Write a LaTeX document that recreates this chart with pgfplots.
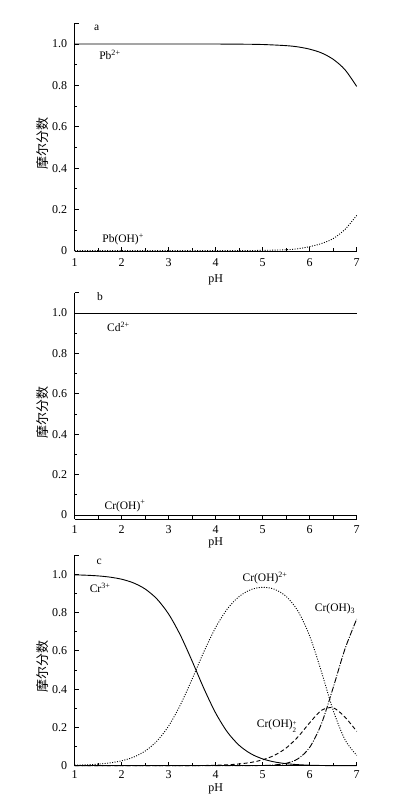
\documentclass[border=0pt]{standalone}
\usepackage{fontspec}
\setmainfont{Liberation Serif}
\newfontfamily\cjk{Noto Sans CJK SC}
\usepackage{pgfplots}
\pgfplotsset{compat=1.18}

\tikzset{lab/.style={font=\fontsize{11.5}{13}\selectfont, inner sep=0pt}}
\pgfplotsset{
  panel/.style={
    scale only axis, width=282pt, anchor=south west,
    xmin=1, xmax=7,
    axis x line=bottom, axis y line=left,
    axis line style={-, line width=0.8pt},
    tick align=inside,
    xtick={1,2,3,4,5,6,7}, minor x tick num=1,
    ytick={0,0.2,0.4,0.6,0.8,1.0},
    yticklabels={0,0.2,0.4,0.6,0.8,1.0},
    minor y tick num=1,
    extra y ticks={1.1}, extra y tick labels={},
    major tick length=4pt, minor tick length=2.5pt,
    every tick/.style={black, line width=0.8pt},
    /pgf/number format/assume math mode=true,
    tick label style={font=\fontsize{12}{14}\selectfont},
    yticklabel style={xshift=-4pt},
    xlabel={pH},
    xlabel style={font=\fontsize{12}{14}\selectfont, anchor=center},
    ylabel={\cjk 摩尔分数},
    ylabel style={font=\fontsize{13}{15}\selectfont, at={(axis description cs:-0.1135,0.47)}, anchor=center},
    every axis plot/.append style={black, line width=0.9pt},
    clip=false,
  },
}

\begin{document}
\begin{tikzpicture}
\useasboundingbox (0,0) rectangle (409pt,804pt);

% a: Pb
\begin{axis}[panel, at={(74.7pt,553pt)}, height=227.7pt, ymin=0, ymax=1.1,
  xticklabel style={yshift=-4.5pt},
  xlabel style={at={(axis description cs:0.5,0)}, yshift=-29pt}]
\addplot[smooth] coordinates {(1,1.0) (2,1.0) (3,1.0) (4,0.9998) (4.5,0.9992) (5,0.9975) (5.5,0.992) (5.75,0.986) (6,0.975) (6.25,0.957) (6.5,0.926) (6.75,0.876) (7,0.795)};
\addplot[smooth, dash pattern=on 1pt off 1.5pt] coordinates {(1,0.002) (2,0.002) (3,0.002) (4,0.002) (4.5,0.002) (5,0.003) (5.5,0.006) (5.75,0.011) (6,0.021) (6.25,0.036) (6.5,0.060) (6.75,0.104) (7,0.172)};
\node[lab] at (axis cs:1.47,1.079) {a};
\node[lab] at (axis cs:1.75,0.947) {Pb\textsuperscript{2+}};
\node[lab] at (axis cs:2.03,0.057) {Pb(OH)\textsuperscript{+}};
\end{axis}

% b: Cd
\begin{axis}[panel, at={(74.7pt,285pt)}, height=226.2pt, ymin=-0.02, ymax=1.1,
  xticklabel style={yshift=-3.5pt},
  xlabel style={at={(axis description cs:0.5,0)}, yshift=-24pt}]
\addplot[solid] coordinates {(1,1.0) (7,1.0)};
\addplot[solid] coordinates {(1,0.0) (7,0.0)};
\node[lab] at (axis cs:1.54,1.08) {b};
\node[lab] at (axis cs:1.93,0.93) {Cd\textsuperscript{2+}};
\node[lab] at (axis cs:2.07,0.045) {Cr(OH)\textsuperscript{+}};
\end{axis}

% c: Cr
\begin{axis}[panel, at={(74.7pt,38.3pt)}, height=210.5pt, ymin=0, ymax=1.1,
  xticklabel style={yshift=-1pt},
  xlabel style={at={(axis description cs:0.5,0)}, yshift=-23.6pt}]
% Cr3+
\addplot[smooth] coordinates {(1,0.9974) (1.25,0.9953) (1.5,0.9918) (1.75,0.9854) (2,0.9744) (2.25,0.9553) (2.5,0.9232) (2.75,0.8712) (3,0.7918) (3.25,0.6813) (3.5,0.5459) (3.75,0.4029) (4,0.2748) (4.25,0.1753) (4.5,0.1063) (4.75,0.0622) (5,0.0354) (5.25,0.0197) (5.5,0.0106) (5.75,0.0055) (6,0.0026) (6.25,0.0011) (6.5,0.0003) (6.75,0.0001) (7,0.0)};
% Cr(OH)2+
\addplot[smooth, dash pattern=on 1pt off 1.5pt] coordinates {(1,0.0026) (1.25,0.0047) (1.5,0.0082) (1.75,0.0146) (2,0.0256) (2.25,0.0447) (2.5,0.0768) (2.75,0.1288) (3,0.2082) (3.25,0.3187) (3.5,0.4536) (3.75,0.5960) (4,0.7228) (4.25,0.8199) (4.5,0.8843) (4.75,0.9202) (5,0.9323) (5.25,0.9219) (5.5,0.8843) (5.75,0.8080) (6,0.6774) (6.25,0.4908) (6.5,0.2890) (6.75,0.1364) (7,0.0542)};
% Cr(OH)2+ (dihydroxo)
\addplot[smooth, dash pattern=on 4pt off 2.5pt] coordinates {(1,0.0) (2,0.0) (3,0.0001) (3.5,0.0005) (3.75,0.0011) (4,0.0024) (4.25,0.0048) (4.5,0.0093) (4.75,0.0171) (5,0.0309) (5.25,0.0543) (5.5,0.0926) (5.75,0.1505) (6,0.2243) (6.25,0.2890) (6.5,0.3026) (6.75,0.2541) (7,0.1796)};
% Cr(OH)3
\addplot[smooth, dash pattern=on 6pt off 1.5pt on 1pt off 1.5pt] coordinates {(1,0.0) (2,0.0) (3,0.0) (4,0.0) (4.5,0.0001) (4.75,0.0004) (5,0.0013) (5.25,0.0041) (5.5,0.0125) (5.75,0.0361) (6,0.0957) (6.25,0.2192) (6.5,0.4081) (6.75,0.6095) (7,0.7662)};
\node[lab] at (axis cs:1.52,1.066) {c};
\node[lab] at (axis cs:1.54,0.93) {Cr\textsuperscript{3+}};
\node[lab] at (axis cs:5.05,0.98) {Cr(OH)\textsuperscript{2+}};
\node[lab] at (axis cs:6.54,0.82) {Cr(OH)\textsubscript{3}};
\node[lab] at (axis cs:5.3,0.2) {Cr(OH)\raisebox{-0.3ex}{\fontsize{7}{7}\selectfont\begin{tabular}[c]{@{}l@{}}+\\[0.8pt]2\end{tabular}}};
\end{axis}
\end{tikzpicture}
\end{document}
